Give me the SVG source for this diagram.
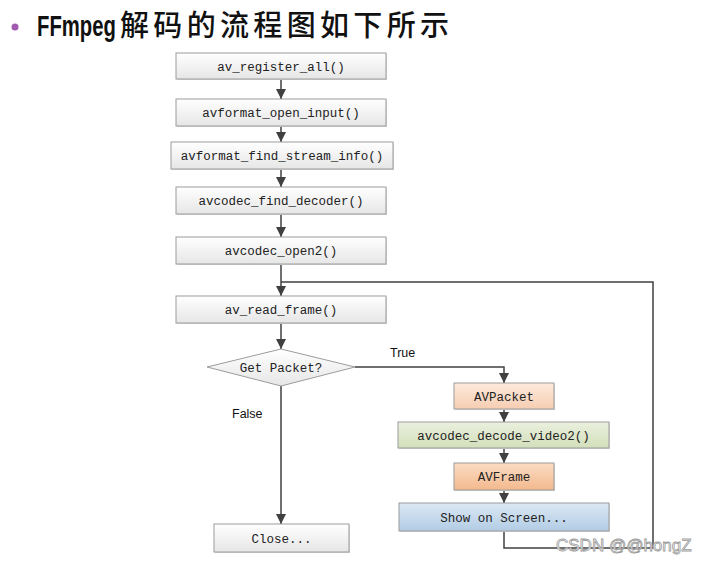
<svg xmlns="http://www.w3.org/2000/svg" width="711" height="565" viewBox="0 0 711 565">
<defs>
<linearGradient id="gw" x1="0" y1="0" x2="0" y2="1"><stop offset="0" stop-color="#ffffff"/><stop offset="1" stop-color="#e6e6e6"/></linearGradient>
<linearGradient id="gp" x1="0" y1="0" x2="0" y2="1"><stop offset="0" stop-color="#fdeadd"/><stop offset="1" stop-color="#f6cdb1"/></linearGradient>
<linearGradient id="gg" x1="0" y1="0" x2="0" y2="1"><stop offset="0" stop-color="#eaf0de"/><stop offset="1" stop-color="#d3dfbb"/></linearGradient>
<linearGradient id="go" x1="0" y1="0" x2="0" y2="1"><stop offset="0" stop-color="#fbdcc3"/><stop offset="1" stop-color="#f3b98e"/></linearGradient>
<linearGradient id="gb" x1="0" y1="0" x2="0" y2="1"><stop offset="0" stop-color="#dce8f4"/><stop offset="1" stop-color="#b2cce5"/></linearGradient>
<marker id="ah" viewBox="0 0 10 10" refX="10" refY="5" markerWidth="10" markerHeight="10" markerUnits="userSpaceOnUse" orient="auto">
<path d="M0,0 L10,5 L0,10 z" fill="#404040"/>
</marker>
<style>
.box{stroke:#9c9c9c;stroke-width:1}
.sh{fill:#d8d8d8}
.lbl{font-family:"Liberation Mono","DejaVu Sans Mono",monospace;font-size:12.5px;fill:#222;text-anchor:middle}
.cond{font-family:"Liberation Sans",Arial,sans-serif;font-size:12.5px;fill:#111}
.ln{fill:none;stroke:#404040;stroke-width:1.5}
.ar{marker-end:url(#ah)}
</style>
</defs>
<rect width="711" height="565" fill="#ffffff"/>
<g id="title">
<circle cx="15" cy="27" r="3.5" fill="#a259b0"/>
<text transform="translate(37,36) scale(0.7,1)" x="0" y="0" font-family="'Liberation Sans','Noto Sans',sans-serif" font-size="29" font-weight="bold" fill="#111">FFmpeg</text>
<text x="120" y="36" font-family="'Noto Sans CJK SC','Noto Sans',sans-serif" font-size="29" font-weight="500" textLength="329" lengthAdjust="spacing" fill="#111">解码的流程图如下所示</text>
</g>
<g id="connectors">
<path class="ln ar" d="M281,79 V99"/>
<path class="ln ar" d="M281,126 V142"/>
<path class="ln ar" d="M281,169 V187"/>
<path class="ln ar" d="M281,214 V237"/>
<path class="ln ar" d="M281,264 V296"/>
<path class="ln" d="M504,531 V548 H653 V282 H281"/>
<path class="ln ar" d="M281,323 V349"/>
<path class="ln ar" d="M355,367 H504 V383"/>
<path class="ln ar" d="M504,409 V422"/>
<path class="ln ar" d="M504,448 V463"/>
<path class="ln ar" d="M504,490 V503"/>
<path class="ln ar" d="M281,386 V524"/>
<text class="cond" x="390" y="357">True</text>
<text class="cond" x="232" y="418">False</text>
</g>
<g id="n1"><rect class="sh" x="177" y="54" width="210" height="26"/><rect class="box" x="176" y="53" width="210" height="26" fill="url(#gw)"/><text class="lbl" x="281" y="70.5">av_register_all()</text></g>
<g id="n2"><rect class="sh" x="177" y="100" width="210" height="27"/><rect class="box" x="176" y="99" width="210" height="27" fill="url(#gw)"/><text class="lbl" x="281" y="117">avformat_open_input()</text></g>
<g id="n3"><rect class="sh" x="172" y="143" width="222" height="27"/><rect class="box" x="171" y="142" width="222" height="27" fill="url(#gw)"/><text class="lbl" x="282" y="160">avformat_find_stream_info()</text></g>
<g id="n4"><rect class="sh" x="177" y="188" width="210" height="27"/><rect class="box" x="176" y="187" width="210" height="27" fill="url(#gw)"/><text class="lbl" x="281" y="205">avcodec_find_decoder()</text></g>
<g id="n5"><rect class="sh" x="177" y="238" width="210" height="27"/><rect class="box" x="176" y="237" width="210" height="27" fill="url(#gw)"/><text class="lbl" x="281" y="255">avcodec_open2()</text></g>
<g id="n6"><rect class="sh" x="177" y="297" width="210" height="27"/><rect class="box" x="176" y="296" width="210" height="27" fill="url(#gw)"/><text class="lbl" x="281" y="314">av_read_frame()</text></g>
<g id="n7"><polygon class="box" points="207,367 281,349 355,367 281,386" fill="url(#gw)"/><text class="lbl" x="281" y="371.5">Get Packet?</text></g>
<g id="n8"><rect class="sh" x="455" y="384" width="100" height="26"/><rect class="box" x="454" y="383" width="100" height="26" fill="url(#gp)"/><text class="lbl" x="504" y="400.5">AVPacket</text></g>
<g id="n9"><rect class="sh" x="399" y="423" width="211" height="26"/><rect class="box" x="398" y="422" width="211" height="26" fill="url(#gg)"/><text class="lbl" x="503.5" y="439.5">avcodec_decode_video2()</text></g>
<g id="n10"><rect class="sh" x="455" y="464" width="100" height="27"/><rect class="box" x="454" y="463" width="100" height="27" fill="url(#go)"/><text class="lbl" x="504" y="481">AVFrame</text></g>
<g id="n11"><rect class="sh" x="400" y="504" width="210" height="28"/><rect class="box" x="399" y="503" width="210" height="28" fill="url(#gb)"/><text class="lbl" x="504" y="521.5">Show on Screen...</text></g>
<g id="n12"><rect class="sh" x="215" y="525" width="135" height="28"/><rect class="box" x="214" y="524" width="135" height="28" fill="url(#gw)"/><text class="lbl" x="281.5" y="542.5">Close...</text></g>
<text x="556" y="551" font-family="'Liberation Sans',Arial,sans-serif" font-size="17" fill="#ffffff" stroke="#9a9a9a" stroke-width="0.8">CSDN @@hongZ</text>
</svg>
